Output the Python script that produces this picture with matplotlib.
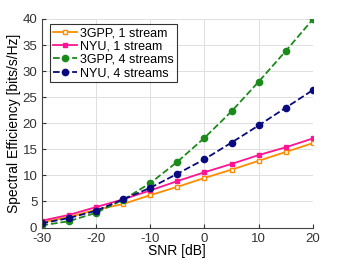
import matplotlib.pyplot as plt

snr = [-30, -25, -20, -15, -10, -5, 0, 5, 10, 15, 20]
gpp_1 = [1.0, 2.0, 3.4, 4.5, 6.2, 7.8, 9.5, 11.1, 12.8, 14.5, 16.2]
nyu_1 = [1.3, 2.4, 3.9, 5.4, 7.1, 8.9, 10.6, 12.2, 13.9, 15.4, 17.1]
gpp_4 = [0.4, 1.2, 2.8, 5.3, 8.5, 12.6, 17.2, 22.3, 28.0, 33.9, 40.0]
nyu_4 = [0.8, 1.8, 3.2, 5.4, 7.6, 10.3, 13.1, 16.3, 19.6, 23.0, 26.4]

plt.rcParams['font.family'] = 'Liberation Sans'
plt.rcParams['axes.unicode_minus'] = False
fig, ax = plt.subplots(figsize=(3.46, 2.6), dpi=100)

ax.plot(snr, gpp_1, '-s', color='#ff8c00', mfc='white', mew=1.0, ms=3.5, lw=1.3, label='3GPP, 1 stream')
ax.plot(snr, nyu_1, '-s', color='#ff1493', ms=3.5, lw=1.3, label='NYU, 1 stream')
ax.plot(snr, gpp_4, '--o', color='#1a8a1a', ms=4.5, lw=1.3, label='3GPP, 4 streams')
ax.plot(snr, nyu_4, '--o', color='#0a0a80', ms=4.5, lw=1.3, label='NYU, 4 streams')

ax.set_xlim(-30, 20)
ax.set_ylim(0, 40)
ax.set_xticks(range(-30, 21, 10))
ax.set_yticks(range(0, 41, 5))
ax.grid(True, color='#e0e0e0', lw=0.7)
ax.set_axisbelow(True)
for s in ['top', 'right']:
    ax.spines[s].set_visible(False)
for s in ['left', 'bottom']:
    ax.spines[s].set_color('#444444')
ax.tick_params(direction='in', labelsize=9.5, colors='#333333', length=3)
ax.tick_params(axis='x', pad=4)
ax.tick_params(axis='y', pad=3)
ax.set_xlabel('SNR [dB]', fontsize=10, labelpad=-1)
ax.set_ylabel('Spectral Efficiency [bits/s/Hz]', fontsize=10, labelpad=1)

leg = ax.legend(loc='upper left', bbox_to_anchor=(0.03, 0.975), borderaxespad=0,
                fontsize=9, frameon=True, fancybox=False,
                edgecolor='black', borderpad=0.25, labelspacing=0.1,
                handlelength=1.9, handletextpad=0.3)
leg.get_frame().set_linewidth(0.8)

fig.subplots_adjust(left=0.12, right=0.905, top=0.927, bottom=0.125)
fig.savefig('out.png', dpi=100)
